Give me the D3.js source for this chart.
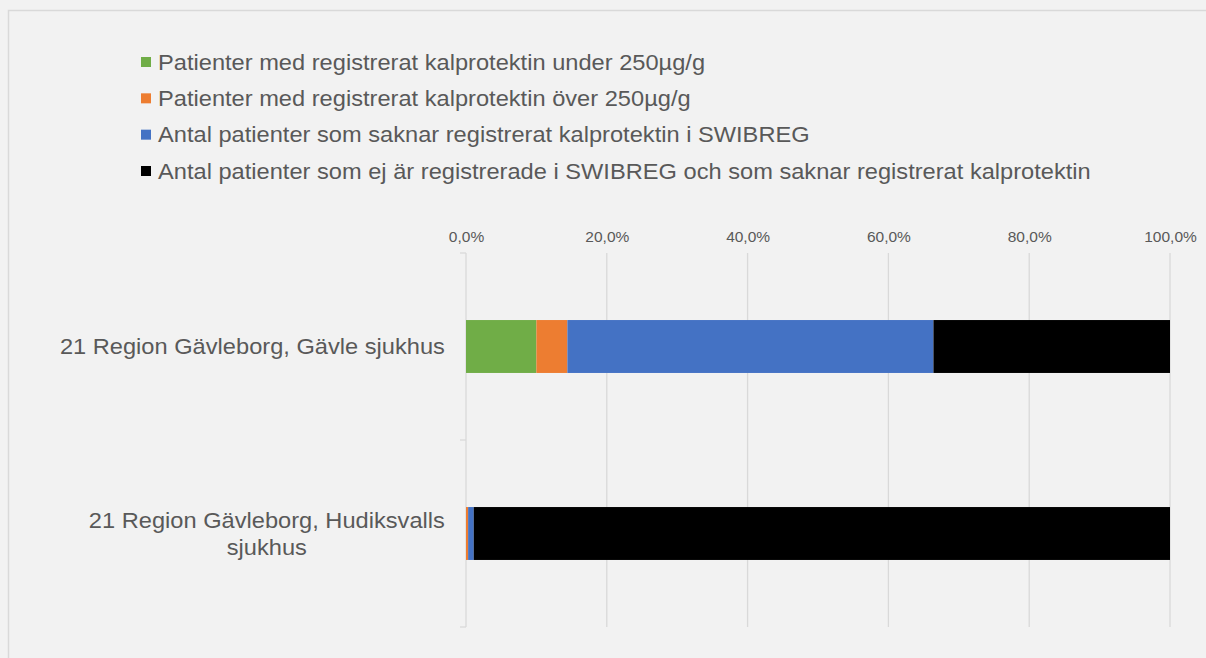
<!DOCTYPE html>
<html>
<head>
<meta charset="utf-8">
<script src="https://cdn.jsdelivr.net/npm/d3@7/dist/d3.min.js"></script>
<style>
  html, body { margin: 0; padding: 0; background: #f2f2f2; }
  svg { display: block; }
  text { font-family: "Liberation Sans", Arial, sans-serif; fill: #595959; }
</style>
</head>
<body>
<svg id="chart" width="1206" height="658"></svg>
<script>
// Hospitals (categories)
const categories = [
  ["21 Region Gävleborg, Gävle sjukhus"],
  ["21 Region Gävleborg, Hudiksvalls", "sjukhus"]
];
const categoryKeys = ["Gävle", "Hudiksvall"];

// Series names, shares in percent per hospital
const seriesNames = [
  "Patienter med registrerat kalprotektin under 250µg/g",
  "Patienter med registrerat kalprotektin över 250µg/g",
  "Antal patienter som saknar registrerat kalprotektin i SWIBREG",
  "Antal patienter som ej är registrerade i SWIBREG och som saknar registrerat kalprotektin"
];
const under250 = [10.0, 0.0];
const over250 = [4.4, 0.3];
const missingInSwibreg = [52.0, 0.8];
const notInSwibreg = [33.6, 98.9];
const seriesColors = ["#70ad47", "#ed7d31", "#4472c4", "#000000"];

const tickValues = [0, 20, 40, 60, 80, 100];

const svg = d3.select("#chart");

// chart frame
svg.append("rect")
  .attr("x", 8.5).attr("y", 10.5)
  .attr("width", 1300).attr("height", 800)
  .attr("fill", "#f2f2f2").attr("stroke", "#d9d9d9").attr("stroke-width", 1.5);

const plot = { left: 466, right: 1170, top: 253, bottom: 627 };
const textStretch = 1.075;   // slightly wide lettering
const bigFont = 22;

const x = d3.scaleLinear().domain([0, 100]).range([plot.left, plot.right]);
const y = d3.scaleBand().domain(categoryKeys)
  .range([plot.top, plot.bottom]).paddingInner(0.717).paddingOuter(0.3585);

// gridlines
svg.append("g")
  .selectAll("line")
  .data(tickValues.slice(1))
  .join("line")
  .attr("x1", d => x(d)).attr("x2", d => x(d))
  .attr("y1", plot.top).attr("y2", plot.bottom)
  .attr("stroke", "#d9d9d9").attr("stroke-width", 1.3);

// top value axis labels
const fmt = d => d3.format(".1f")(d).replace(".", ",") + "%";
const xAxis = svg.append("g")
  .attr("transform", `translate(0,${plot.top - 11})`)
  .call(d3.axisTop(x).tickValues(tickValues).tickFormat(fmt).tickSize(0).tickPadding(0));
xAxis.select(".domain").remove();
xAxis.selectAll("text")
  .attr("font-size", 15.5)
  .style("font-family", "'Liberation Sans', Arial, sans-serif")
  .attr("fill", "#595959");

// category axis
const yAxisG = svg.append("g").attr("transform", `translate(${plot.left},0)`);
yAxisG.append("line")
  .attr("x1", 0).attr("x2", 0)
  .attr("y1", plot.top).attr("y2", plot.bottom)
  .attr("stroke", "#d9d9d9").attr("stroke-width", 1.3);
const boundaries = [plot.top, ...categoryKeys.map(k => y(k) + y.bandwidth() / 2 + y.step() / 2)];
yAxisG.selectAll("line.tick")
  .data(boundaries)
  .join("line")
  .attr("class", "tick")
  .attr("x1", -6).attr("x2", 0)
  .attr("y1", d => d).attr("y2", d => d)
  .attr("stroke", "#d9d9d9").attr("stroke-width", 1.3);

// category labels (right aligned block, lines centred within it)
const labelRight = 445;
const lineH = 27;
categoryKeys.forEach((k, i) => {
  const lines = categories[i];
  const cy = y(k) + y.bandwidth() / 2;
  const g = svg.append("g");
  const texts = g.selectAll("text").data(lines).join("text")
    .attr("font-size", bigFont)
    .attr("dominant-baseline", "central")
    .attr("text-anchor", "middle")
    .text(d => d);
  const widths = texts.nodes().map(n => n.getComputedTextLength() * textStretch);
  const maxW = d3.max(widths);
  const center = labelRight - maxW / 2;
  texts.attr("transform", (d, j) =>
    `translate(${center},${cy + (j - (lines.length - 1) / 2) * lineH}) scale(${textStretch},1)`);
});

// stacked bars
const seriesData = [under250, over250, missingInSwibreg, notInSwibreg];
const rows = categoryKeys.map((k, i) => {
  const row = { key: k };
  seriesNames.forEach((s, j) => { row[s] = seriesData[j][i]; });
  return row;
});
const stacked = d3.stack().keys(seriesNames)(rows);

svg.append("g")
  .selectAll("g")
  .data(stacked)
  .join("g")
  .attr("fill", (d, i) => seriesColors[i])
  .selectAll("rect")
  .data(d => d)
  .join("rect")
  .attr("x", d => x(d[0]))
  .attr("width", d => Math.max(0, x(d[1]) - x(d[0])))
  .attr("y", d => y(d.data.key))
  .attr("height", y.bandwidth());

// legend
const legend = svg.append("g");
const legendY = d3.scaleLinear().domain([0, 3]).range([62, 171]);
seriesNames.forEach((name, i) => {
  const cy = legendY(i);
  legend.append("rect")
    .attr("x", 141).attr("y", cy - 5)
    .attr("width", 10).attr("height", 10)
    .attr("fill", seriesColors[i]);
  legend.append("text")
    .attr("transform", `translate(158,${cy}) scale(${textStretch},1)`)
    .attr("dominant-baseline", "central")
    .attr("font-size", bigFont)
    .text(name);
});
</script>
</body>
</html>
